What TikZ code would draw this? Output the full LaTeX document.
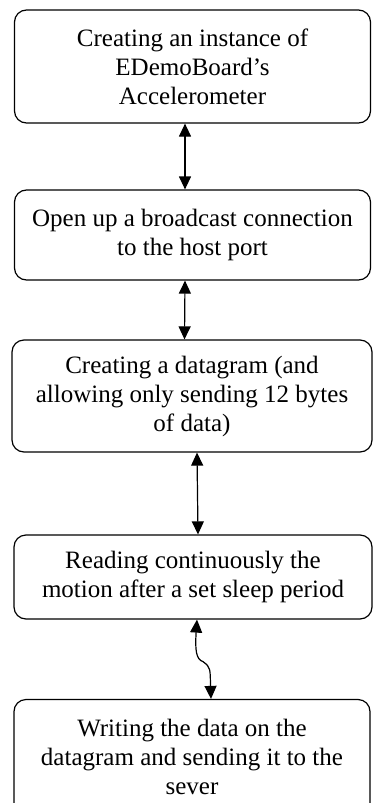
\documentclass[tikz,border=0pt]{standalone}
\usepackage{fontspec}
\setmainfont{Liberation Serif}
\usetikzlibrary{arrows.meta}

\begin{document}
\begin{tikzpicture}[x=1pt,y=-1pt,
	stepbox/.style={draw,line width=1.2pt,rounded corners=12pt,align=center,
		inner sep=0pt,font=\fontsize{25}{29}\selectfont},
	link/.style={line width=1.2pt,{Triangle[width=12pt,length=13pt]}-{Triangle[width=12pt,length=13pt]}}]
	\useasboundingbox (0,0) rectangle (373,803);
	\node[stepbox,minimum width=356pt,minimum height=113pt] (b1) at (192.5,66.5)
		{Creating an instance of\\EDemoBoard's\\Accelerometer};
	\node[stepbox,minimum width=356pt,minimum height=90pt] (b2) at (192.5,235)
		{Open up a broadcast connection\\to the host port};
	\node[stepbox,minimum width=360pt,minimum height=112pt] (b3) at (192,396)
		{Creating a datagram (and\\allowing only sending 12 bytes\\of data)};
	\node[stepbox,minimum width=358pt,minimum height=84pt] (b4) at (193,577)
		{Reading continuously the\\motion after a set sleep period};
	\node[stepbox,minimum width=356pt,minimum height=115pt] (b5) at (192,757)
		{Writing the data on the\\datagram and sending it to the\\sever};
	\draw[link] ([xshift=-7.5pt]b1.south) -- ([xshift=-7.5pt]b2.north);
	\draw[link] ([xshift=-7.5pt]b2.south) -- ([xshift=-7.5pt]b3.north);
	\draw[link] ([xshift=5pt]b3.south) -- ([xshift=5pt]b4.north);
	\draw[link] ([xshift=4pt]b4.south) .. controls ([xshift=2pt,yshift=-30pt]b4.south) and ([xshift=3pt,yshift=-40pt]b4.south) .. ([xshift=10pt,yshift=-42pt]b4.south)
		.. controls ([xshift=18pt,yshift=-48pt]b4.south) and ([xshift=18pt,yshift=30pt]b5.north) .. ([xshift=19pt]b5.north);
\end{tikzpicture}
\end{document}
